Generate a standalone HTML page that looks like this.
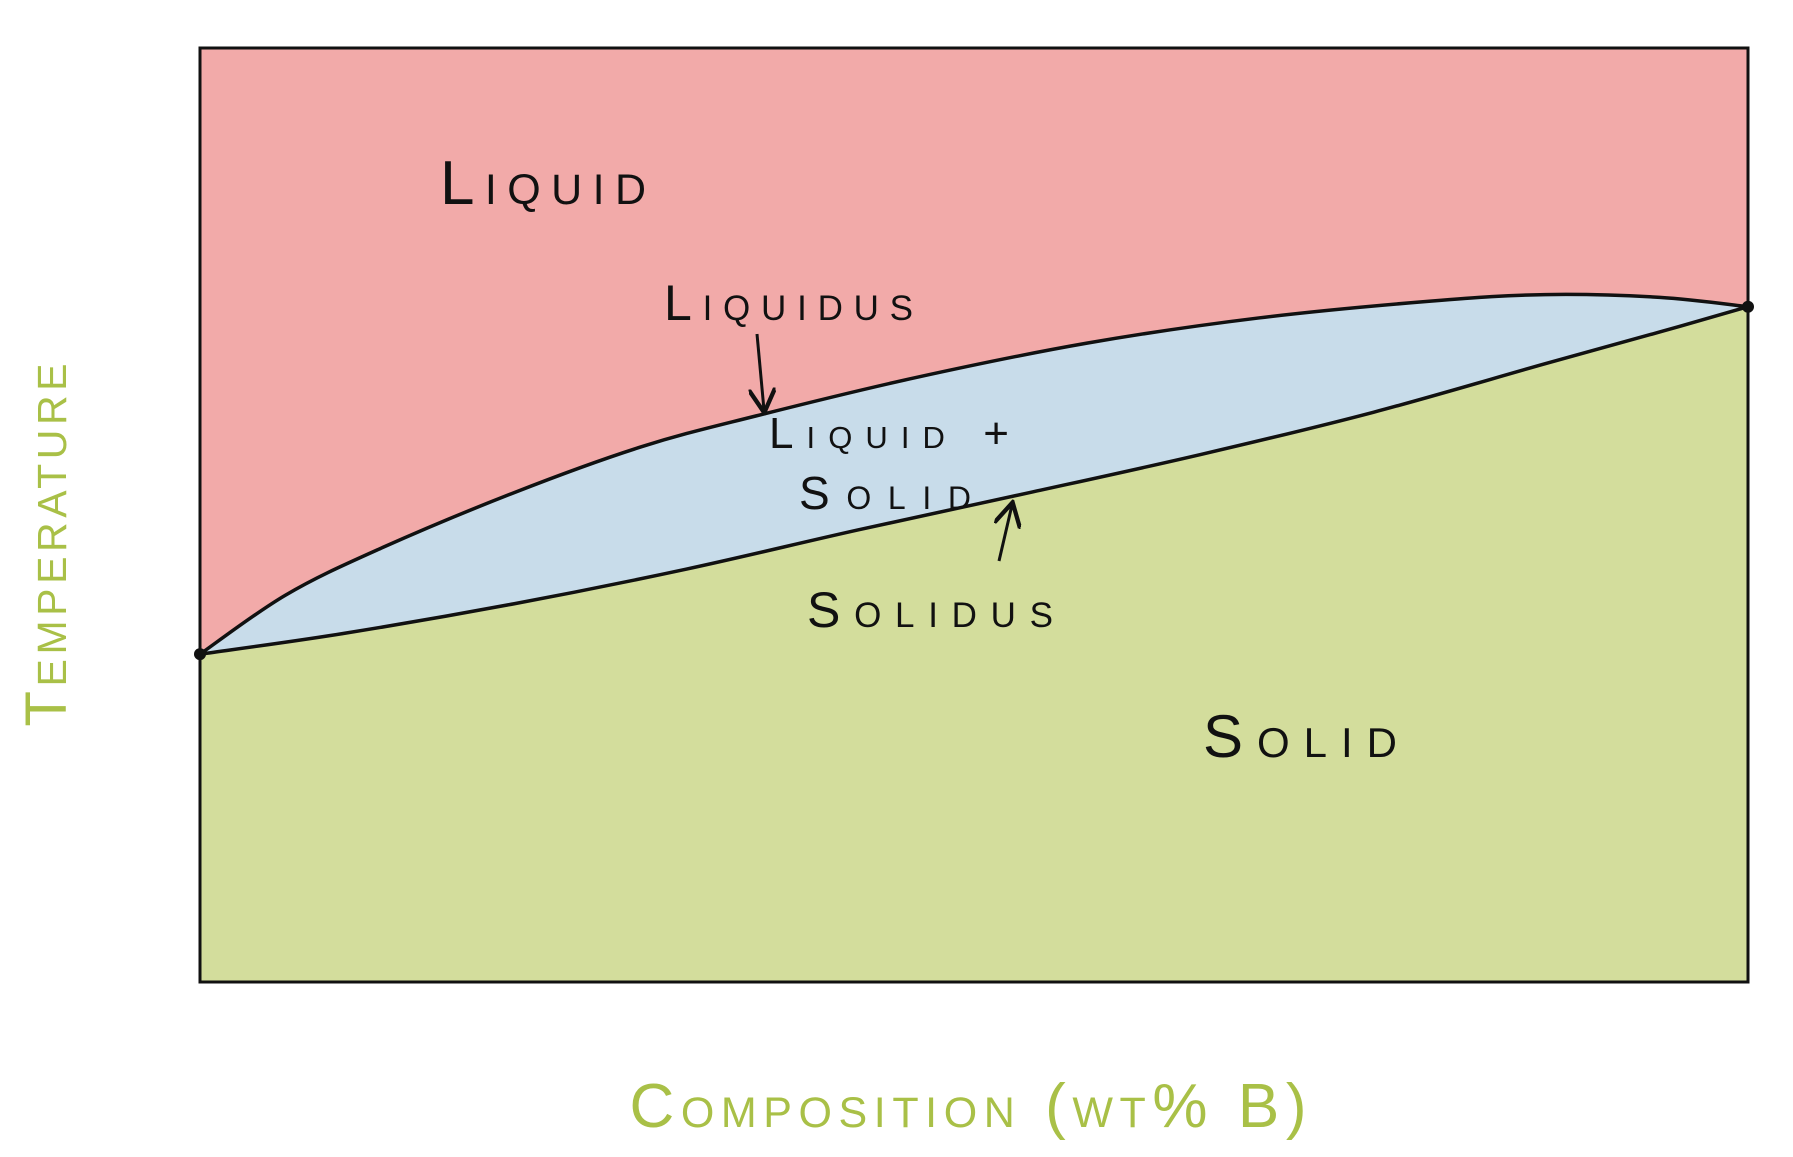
<!DOCTYPE html>
<html><head><meta charset="utf-8"><style>
html,body{margin:0;padding:0;background:#fff;}
svg{display:block;}
text{font-family:"Liberation Sans",sans-serif;font-variant:small-caps;}
</style></head><body>
<svg id="chart" width="1793" height="1157" viewBox="0 0 1793 1157" xmlns="http://www.w3.org/2000/svg">
<defs><marker id="ah" viewBox="0 0 10 10" refX="8" refY="5" markerWidth="9" markerHeight="9" orient="auto"><path d="M0,0 L9,5 L0,10" fill="none" stroke="#111" stroke-width="1.6"/></marker></defs>
<g id="regions"></g>
<rect x="200" y="48" width="1548" height="934" fill="none" stroke="#111" stroke-width="3"/>
<text x="440" y="204" font-size="62" fill="#111" textLength="206" lengthAdjust="spacing">Liquid</text>
<text x="664" y="320" font-size="50" fill="#111" textLength="249" lengthAdjust="spacing">Liquidus</text>
<line x1="757" y1="334" x2="764" y2="410" stroke="#111" stroke-width="3" marker-end="url(#ah)"/>
<text x="769" y="448" font-size="44" fill="#111" textLength="240" lengthAdjust="spacing">Liquid +</text>
<text x="799" y="509" font-size="46" fill="#111" textLength="172" lengthAdjust="spacing">Solid</text>
<line x1="999" y1="561" x2="1012" y2="505" stroke="#111" stroke-width="3" marker-end="url(#ah)"/>
<text x="807" y="627" font-size="50" fill="#111" textLength="246" lengthAdjust="spacing">Solidus</text>
<text x="1203" y="757" font-size="60" fill="#111" textLength="194" lengthAdjust="spacing">Solid</text>
<text transform="translate(66,545) rotate(-90)" text-anchor="middle" font-size="58" fill="#a9c047" textLength="363" lengthAdjust="spacing">Temperature</text>
<text x="968" y="1127" text-anchor="middle" font-size="62" fill="#a9c047" textLength="677" lengthAdjust="spacing">Composition (wt% B)</text>
</svg>
<script>
const compLiq = [0, 5.5, 11.5, 20.3, 28.5, 35.9, 46.2, 57.3, 68.4, 79.5, 86.9, 94.3, 100];
const tempLiq = [35.1, 41.4, 46.3, 52.4, 57.3, 60.6, 64.7, 68.4, 71.1, 72.9, 73.6, 73.3, 72.3];
const compSol = [0, 9.2, 20.3, 31.4, 42.5, 53.6, 64.7, 75.8, 86.9, 94.3, 100];
const tempSol = [35.1, 37.3, 40.5, 44.2, 48.4, 52.4, 56.5, 61.0, 66.2, 69.6, 72.3];
const X0=200, X1=1748, Y0=982, Y1=48;
function xs(c){return X0+(c/100)*(X1-X0);}
function ys(t){return Y0-(t/100)*(Y0-Y1);}
function curve(cs,ts){
  const p=cs.map((c,i)=>[xs(c),ys(ts[i])]);
  let d='';
  for(let i=0;i<p.length-1;i++){
    const a=p[Math.max(0,i-1)],b=p[i],c=p[i+1],e=p[Math.min(p.length-1,i+2)];
    const c1=[b[0]+(c[0]-a[0])/6,b[1]+(c[1]-a[1])/6];
    const c2=[c[0]-(e[0]-b[0])/6,c[1]-(e[1]-b[1])/6];
    d+=` C${c1[0]},${c1[1]} ${c2[0]},${c2[1]} ${c[0]},${c[1]}`;
  }
  return {start:p[0],end:p[p.length-1],d};
}
const NS='http://www.w3.org/2000/svg';
const g=document.getElementById('regions');
const L=curve(compLiq,tempLiq), S=curve(compSol,tempSol);
function mk(d,fill,stroke){const e=document.createElementNS(NS,'path');e.setAttribute('d',d);e.setAttribute('fill',fill);if(stroke){e.setAttribute('stroke',stroke);e.setAttribute('stroke-width','3.5');}g.appendChild(e);return e;}
const liq=mk(`M${L.start[0]},${L.start[1]}${L.d} L${X1},${Y1} L${X0},${Y1} Z`,'#f2aaa9');


const sol=mk(`M${S.start[0]},${S.start[1]}${S.d} L${X1},${Y0} L${X0},${Y0} Z`,'#d3dd9c');


const rev=curve(compSol.slice().reverse(),tempSol.slice().reverse());
const two=mk(`M${L.start[0]},${L.start[1]}${L.d} L${rev.start[0]},${rev.start[1]}${rev.d} Z`,'#c8dcea');


const lline=mk(`M${L.start[0]},${L.start[1]}${L.d}`,'none','#111');


const sline=mk(`M${S.start[0]},${S.start[1]}${S.d}`,'none','#111');


[L.start,L.end].forEach((p,i)=>{const c=document.createElementNS(NS,'circle');c.setAttribute('cx',p[0]);c.setAttribute('cy',p[1]);c.setAttribute('r','6');c.setAttribute('fill','#111');


g.appendChild(c);});
</script>
</body></html>
